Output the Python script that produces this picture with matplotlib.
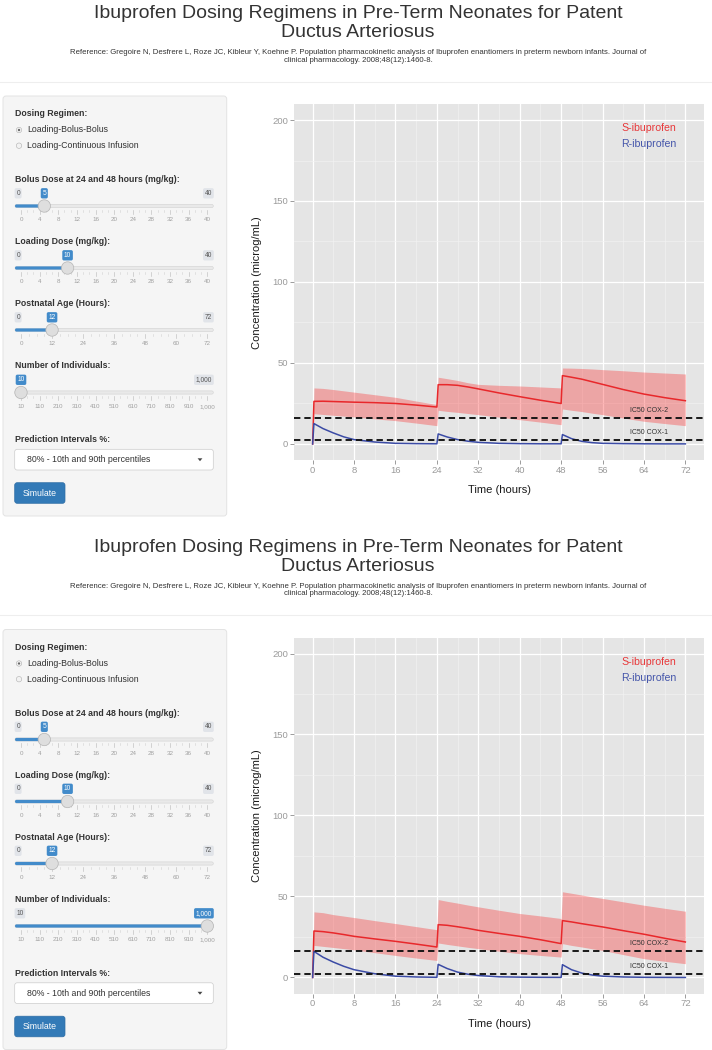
import matplotlib
matplotlib.use("Agg")
import matplotlib.pyplot as plt
from matplotlib.patches import FancyBboxPatch, Circle, Polygon
import numpy as np

plt.rcParams['font.family'] = ['Liberation Sans', 'DejaVu Sans']

# ---------------- data ----------------
TITLE_1 = "Ibuprofen Dosing Regimens in Pre-Term Neonates for Patent"
TITLE_2 = "Ductus Arteriosus"
REF_1 = ("Reference: Gregoire N, Desfrere L, Roze JC, Kibleur Y, Koehne P. Population pharmacokinetic "
         "analysis of Ibuprofen enantiomers in preterm newborn infants. Journal of")
REF_2 = "clinical pharmacology. 2008;48(12):1460-8."

time_h = [0, 0.25, 2, 4, 6, 8, 12, 16, 20, 24,
          24.25, 26, 28, 30, 32, 36, 40, 44, 48,
          48.25, 50, 52, 54, 56, 60, 64, 68, 72]

# top screen: 10 individuals
s_med_10 = [0, 26.3, 26.4, 26.2, 26.0, 25.8, 25.5, 25.0, 24.0, 22.8,
            36.6, 36.6, 36.2, 35.2, 34.0, 31.5, 29.2, 27.0, 25.0,
            42.2, 41.2, 40.0, 38.4, 36.8, 33.6, 30.8, 28.6, 26.7]
s_hi_10 = [0, 34.6, 34.3, 33.6, 32.8, 32.0, 30.4, 28.8, 26.5, 24.3,
           41.2, 40.3, 39.2, 37.8, 36.8, 36.2, 35.8, 35.2, 34.6,
           46.9, 46.8, 46.6, 46.3, 45.9, 45.2, 44.4, 43.8, 43.2]
s_lo_10 = [0, 18.7, 18.2, 17.7, 17.2, 16.7, 15.5, 14.4, 12.9, 11.3,
           20.8, 20.1, 19.5, 18.8, 18.1, 16.6, 15.0, 13.5, 11.9,
           21.6, 20.8, 20.0, 19.0, 18.1, 16.0, 14.0, 12.6, 11.3]
r_med_10 = [0, 12.6, 9.5, 6.8, 4.4, 2.7, 1.2, 0.4, 0.2, 0.1,
            6.2, 4.3, 2.7, 1.7, 1.0, 0.4, 0.2, 0.1, 0.1,
            5.8, 3.3, 1.6, 0.8, 0.4, 0.2, 0.1, 0.05, 0.05]

# bottom screen: 1,000 individuals
s_med_1000 = [0, 28.7, 28.3, 27.5, 26.5, 25.4, 23.8, 22.3, 20.6, 18.8,
              32.6, 32.2, 31.3, 30.3, 29.1, 27.2, 25.4, 23.3, 20.9,
              35.1, 34.3, 33.2, 32.2, 31.2, 28.9, 26.7, 24.2, 21.9]
s_hi_1000 = [0, 40.5, 40.0, 38.8, 37.9, 37.0, 35.1, 33.3, 31.4, 29.5,
             48.1, 47.0, 45.9, 44.7, 43.6, 41.5, 39.5, 38.0, 36.4,
             52.9, 52.0, 50.9, 49.8, 48.8, 46.7, 44.6, 42.7, 40.9]
s_lo_1000 = [0, 19.8, 19.2, 18.5, 17.8, 17.1, 15.3, 13.6, 12.0, 10.5,
             21.3, 20.4, 19.5, 18.6, 17.8, 16.2, 14.7, 13.6, 12.6,
             20.9, 19.8, 18.8, 17.7, 16.7, 14.1, 11.6, 10.0, 8.5]
r_med_1000 = [0, 16.1, 12.5, 9.5, 6.9, 4.8, 2.3, 0.8, 0.3, 0.1,
              8.1, 5.5, 3.3, 2.0, 1.2, 0.4, 0.2, 0.1, 0.05,
              7.9, 4.8, 2.7, 1.5, 0.8, 0.3, 0.1, 0.05, 0.0]

IC50_COX2 = 16.3
IC50_COX1 = 2.4

x_ticks = [0, 8, 16, 24, 32, 40, 48, 56, 64, 72]
y_ticks = [0, 50, 100, 150, 200]

# sidebar widgets
regimens = ["Loading-Bolus-Bolus", "Loading-Continuous Infusion"]
bolus_ticks = [0, 4, 8, 12, 16, 20, 24, 28, 32, 36, 40]
loading_ticks = [0, 4, 8, 12, 16, 20, 24, 28, 32, 36, 40]
age_ticks = [0, 12, 24, 36, 48, 60, 72]
indiv_ticks = [10, 109, 208, 307, 406, 505, 604, 703, 802, 901, 1000]
indiv_tick_labels = ["10", "110", "210", "310", "410", "510", "610", "710", "810", "910", "1,000"]
bolus_value = 5
loading_value = 10
age_value = 12
indiv_values = [10, 1000]
interval_choice = "80% - 10th and 90th percentiles"

# ---------------- figure ----------------
W, H = 712, 1050
fig = plt.figure(figsize=(W / 100, H / 100), dpi=100)
fig.patch.set_facecolor('white')
bg = fig.add_axes([0, 0, 1, 1], zorder=0)
bg.set_xlim(0, W)
bg.set_ylim(H, 0)
bg.axis('off')

TXT = '#333333'
BLUE = '#428bca'
FS = 6.3        # sidebar text
FS_BADGE = 4.8
FS_GRID = 4.5


def badge(x, y, text, fc, tc, ha='center'):
    bg.text(x, y, text, fontsize=FS_BADGE, color=tc, ha=ha, va='center',
            bbox=dict(boxstyle='round,pad=0.25,rounding_size=0.25', fc=fc, ec='none'), zorder=5)


def slider(o, ylab, label, vmin, vmax, value, tvals, tlabels, n_small):
    x0, x1 = 21.0, 207.3
    tl, tr = 15.0, 213.3
    ytr = o + ylab + 26.5
    bg.text(15, o + ylab, label, fontsize=FS, fontweight='bold', color=TXT, va='center', ha='left')
    pos = lambda v: x0 + (v - vmin) / (vmax - vmin) * (x1 - x0)
    hx = pos(value)
    bg.add_patch(FancyBboxPatch((tl, ytr - 1.6), tr - tl, 3.2,
                                boxstyle='round,pad=0,rounding_size=1.6',
                                fc='#e9e9e9', ec='#d2d2d2', lw=0.4, zorder=2))
    bg.add_patch(FancyBboxPatch((tl, ytr - 1.6), hx - tl, 3.2,
                                boxstyle='round,pad=0,rounding_size=1.6',
                                fc=BLUE, ec='none', zorder=3))
    px = [pos(v) for v in tvals]
    for i, p in enumerate(px):
        bg.plot([p, p], [ytr + 3.5, ytr + 7.5], color='#c4c4c4', lw=0.5, zorder=2)
        bg.text(p, ytr + 15.4, tlabels[i], fontsize=FS_GRID, color='#a0a0a0', ha='center', va='baseline')
        if i > 0:
            for k in range(1, n_small + 1):
                q = px[i - 1] + (p - px[i - 1]) * k / (n_small + 1)
                bg.plot([q, q], [ytr + 3.5, ytr + 5.5], color='#d0d0d0', lw=0.4, zorder=2)
    bg.add_patch(Circle((hx, ytr), 6.2, fc='#dedede', ec='#b4b4b4', lw=0.5, zorder=6))
    yb = o + ylab + 13.8
    vtxt = tlabels[-1] if value == vmax else tlabels[0] if value == vmin else str(value)
    if hx + 8 > tr:
        badge(tr - 1.2, yb, vtxt, BLUE, 'white', ha='right')
    else:
        badge(hx, yb, vtxt, BLUE, 'white')
    if hx - x0 > 12:
        badge(16.3, yb, tlabels[0], '#e1e4e9', '#555555', ha='left')
    if x1 - hx > 14:
        badge(tr - 1.2, yb, tlabels[-1], '#e1e4e9', '#555555', ha='right')


def page(o, indiv_value):
    bg.text(358, o + 18.3, TITLE_1, fontsize=14.0, color=TXT, ha='center', va='baseline')
    bg.text(358, o + 37.3, TITLE_2, fontsize=14.0, color=TXT, ha='center', va='baseline')
    bg.text(358, o + 52.7, REF_1, fontsize=5.6, color=TXT, ha='center', va='center')
    bg.text(358, o + 60.3, REF_2, fontsize=5.6, color=TXT, ha='center', va='center')
    bg.plot([0, W], [o + 81.7, o + 81.7], color='#eeeeee', lw=0.8)
    bg.add_patch(FancyBboxPatch((3, o + 96), 223.7, 420, boxstyle='round,pad=0,rounding_size=3',
                                fc='#f5f5f5', ec='#e3e3e3', lw=0.7, zorder=1))
    bg.text(15, o + 114, "Dosing Regimen:", fontsize=FS, fontweight='bold', color=TXT, va='center')
    for i, r in enumerate(regimens):
        yy = o + 130 + i * 15.7
        bg.add_patch(Circle((19, yy), 2.7, fc='#f2f2f2', ec='#b0b0b0', lw=0.4, zorder=3))
        if i == 0:
            bg.add_patch(Circle((19, yy), 1.15, fc='#666666', ec='none', zorder=4))
        bg.text(27.3, yy, r, fontsize=FS, color=TXT, va='center', ha='left')
    slider(o, 179.5, "Bolus Dose at 24 and 48 hours (mg/kg):", 0, 40, bolus_value,
           bolus_ticks, [str(v) for v in bolus_ticks], 2)
    slider(o, 241.5, "Loading Dose (mg/kg):", 0, 40, loading_value,
           loading_ticks, [str(v) for v in loading_ticks], 2)
    slider(o, 303.5, "Postnatal Age (Hours):", 0, 72, age_value,
           age_ticks, [str(v) for v in age_ticks], 3)
    slider(o, 366.0, "Number of Individuals:", 10, 1000, indiv_value,
           indiv_ticks, indiv_tick_labels, 2)
    bg.text(15, o + 440, "Prediction Intervals %:", fontsize=FS, fontweight='bold', color=TXT, va='center')
    bg.add_patch(FancyBboxPatch((14.7, o + 449.3), 198.6, 20.7, boxstyle='round,pad=0,rounding_size=2.5',
                                fc='white', ec='#cccccc', lw=0.5, zorder=2))
    bg.text(26.7, o + 459.6, interval_choice, fontsize=FS, color=TXT, va='center', ha='left', zorder=3)
    bg.add_patch(Polygon([(197.6, o + 458.3), (202.4, o + 458.3), (200, o + 461.2)], closed=True,
                         fc='#444444', ec='none', zorder=3))
    bg.add_patch(FancyBboxPatch((14.7, o + 482.7), 50.3, 20.6, boxstyle='round,pad=0,rounding_size=2.5',
                                fc='#337ab7', ec='#2e6da4', lw=0.5, zorder=2))
    bg.text(39.8, o + 493.2, "Simulate", fontsize=FS, color='white', va='center', ha='center', zorder=3)


def chart(o, s_med, s_lo, s_hi, r_med):
    left, right = 294, 704
    top, bottom = 104.3 + o, 460 + o
    ax = fig.add_axes([left / W, 1 - bottom / H, (right - left) / W, (bottom - top) / H], zorder=2)
    ax.set_facecolor('#E5E5E5')
    for s in ax.spines.values():
        s.set_visible(False)
    ax.set_xlim(-3.6, 75.6)
    ax.set_ylim(-9.9, 209.7)
    ax.set_xticks(x_ticks)
    ax.set_yticks(y_ticks)
    ax.set_xticks([4 + 8 * i for i in range(9)], minor=True)
    ax.set_yticks([25, 75, 125, 175], minor=True)
    ax.set_axisbelow(True)
    ax.grid(which='major', color='white', lw=0.9)
    ax.grid(which='minor', color='#F3F3F3', lw=0.45)
    ax.tick_params(which='major', length=2.6, width=0.6, color='#8c8c8c', labelcolor='#9a9a9a',
                   labelsize=6.8, pad=1.5)
    ax.tick_params(which='minor', length=0)
    ax.fill_between(time_h, s_lo, s_hi, color='#ff0000', alpha=0.28, lw=0, zorder=2)
    ax.plot(time_h, s_med, color='#E8282B', lw=1.1, zorder=3)
    ax.plot(time_h, r_med, color='#3B4BA5', lw=1.1, zorder=3)
    for v, lab in [(IC50_COX2, 'IC50 COX-2'), (IC50_COX1, 'IC50 COX-1')]:
        ax.axhline(v, color='#111111', lw=1.35, dashes=(3.4, 2.1), zorder=4)
        ax.text(65, v + 4.4, lab, fontsize=5.0, color='#333333', ha='center', va='center', zorder=5)
    ax.text(65, 195, 'S-ibuprofen', fontsize=7.6, color='#E8383A', ha='center', va='center')
    ax.text(65, 185, 'R-ibuprofen', fontsize=7.6, color='#4455AA', ha='center', va='center')
    ax.set_xlabel('Time (hours)', fontsize=8.0, color='#1a1a1a')
    ax.set_ylabel('Concentration (microg/mL)', fontsize=8.0, color='#1a1a1a')
    ax.xaxis.set_label_coords(0.5, (460 - 490.5) / 356)
    ax.xaxis.label.set_va('center')
    ax.yaxis.set_label_coords((257.5 - 294) / 410, 0.5)
    ax.yaxis.label.set_va('center')
    return ax


offsets = [0, 533.5]
page(offsets[0], indiv_values[0])
chart(offsets[0], s_med_10, s_lo_10, s_hi_10, r_med_10)
page(offsets[1], indiv_values[1])
chart(offsets[1], s_med_1000, s_lo_1000, s_hi_1000, r_med_1000)

fig.savefig('out.png', dpi=100, facecolor='white')
